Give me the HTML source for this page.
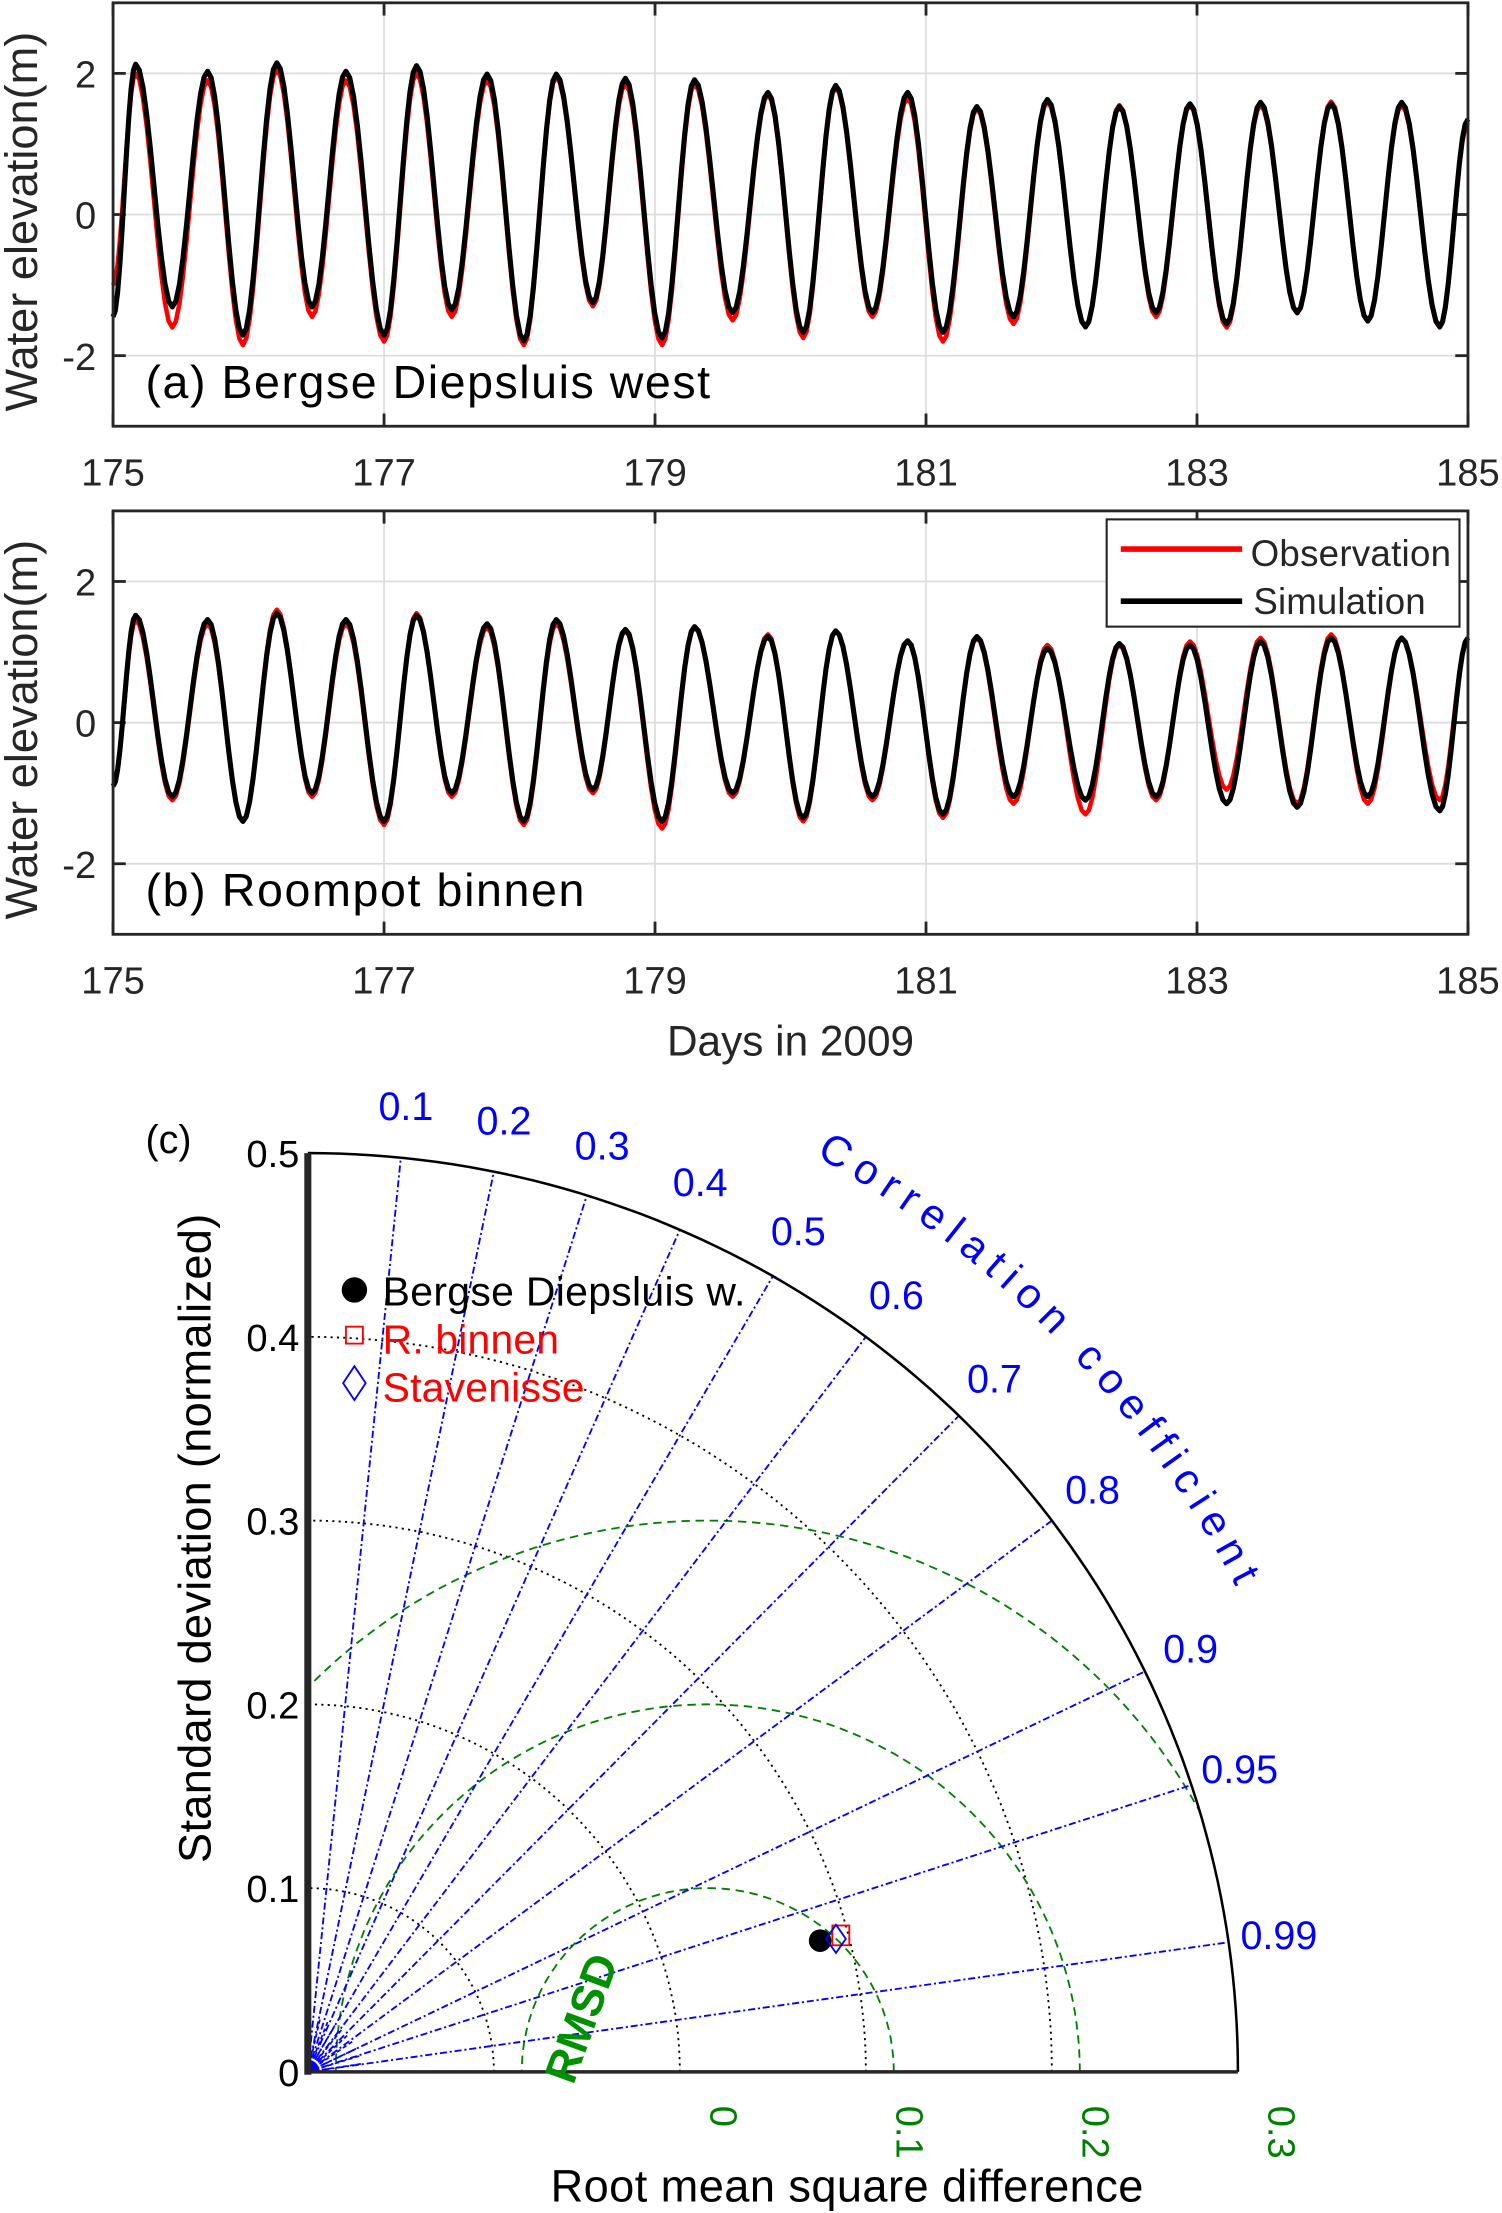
<!DOCTYPE html>
<html><head><meta charset="utf-8"><style>
html,body{margin:0;padding:0;background:#fff}
svg{display:block;font-family:"Liberation Sans",Arial,sans-serif}
</style></head><body>
<svg id="fig" width="1502" height="2213" viewBox="0 0 1064 1568" xmlns="http://www.w3.org/2000/svg">
<g id="panelA"></g>
<g id="panelB"></g>
<g id="panelC"></g>
</svg>
<script>
// ---- time-series data (extrema: start, then peak/low alternating, end) ----
const extremaDays=[175.0,175.167,175.438,175.698,175.958,176.208,176.469,176.719,177.0,177.24,177.5,177.76,178.031,178.271,178.542,178.781,179.052,179.292,179.573,179.833,180.094,180.333,180.604,180.865,181.125,181.375,181.646,181.896,182.177,182.427,182.698,182.948,183.219,183.469,183.74,183.99,184.26,184.51,184.792,185.0];
const simAStart=-1.45, simAEnd=1.35;
const simAPeaks=[2.13,2.03,2.15,2.03,2.11,1.99,1.99,1.93,1.91,1.73,1.83,1.73,1.53,1.63,1.53,1.57,1.59,1.57,1.59];
const simALows=[-1.31,-1.71,-1.31,-1.71,-1.35,-1.79,-1.25,-1.75,-1.39,-1.67,-1.39,-1.67,-1.45,-1.59,-1.39,-1.55,-1.39,-1.51,-1.59];
const obsAStart=-1.0, obsAEnd=1.3;
const obsAPeaks=[2.0,1.9,2.05,1.9,2.0,1.9,1.95,1.85,1.85,1.7,1.8,1.65,1.5,1.6,1.55,1.55,1.55,1.6,1.55];
const obsALows=[-1.6,-1.85,-1.45,-1.8,-1.45,-1.85,-1.3,-1.85,-1.5,-1.75,-1.45,-1.8,-1.55,-1.6,-1.45,-1.6,-1.4,-1.5,-1.6];
const simBStart=-0.9, simBEnd=1.2;
const simBPeaks=[1.52,1.46,1.55,1.46,1.52,1.40,1.46,1.32,1.36,1.22,1.30,1.16,1.22,1.05,1.12,1.10,1.15,1.2,1.2];
const simBLows=[-1.05,-1.4,-1.0,-1.4,-1.0,-1.4,-0.95,-1.4,-1.0,-1.35,-1.05,-1.3,-1.05,-1.1,-1.05,-1.15,-1.2,-1.05,-1.25];
const obsBStart=-0.9, obsBEnd=1.2;
const obsBPeaks=[1.45,1.4,1.6,1.4,1.55,1.35,1.4,1.3,1.35,1.25,1.3,1.15,1.2,1.1,1.1,1.15,1.2,1.25,1.2];
const obsBLows=[-1.1,-1.4,-1.05,-1.45,-1.05,-1.45,-1.0,-1.5,-1.05,-1.4,-1.1,-1.35,-1.15,-1.3,-1.1,-0.95,-1.15,-1.15,-1.1];
const xTicks=[175,177,179,181,183,185];
const yTicks=[-2,0,2];
// ---- Taylor diagram data ----
const corrTicks=[0.1,0.2,0.3,0.4,0.5,0.6,0.7,0.8,0.9,0.95,0.99];
const stdTicks=[0,0.1,0.2,0.3,0.4,0.5];
const rmsdTicks=[0.1,0.2,0.3];
const rmsdLabels=["0","0.1","0.2","0.3"];
const refStd=0.215;
const stationNames=["Bergse Diepsluis w.","R. binnen","Stavenisse"];
const stationStd=[0.2845,0.296,0.293];
const stationCorr=[0.968,0.968,0.969];

const NS="http://www.w3.org/2000/svg";
function mk(tag,attrs,parent,text){const e=document.createElementNS(NS,tag);for(const k in attrs)e.setAttribute(k,attrs[k]);if(text!==undefined)e.textContent=text;parent.appendChild(e);return e;}
function series(start,peaks,lows,end){const v=[start];for(let i=0;i<peaks.length;i++){v.push(peaks[i]);v.push(lows[i]);}v.push(end);return v;}

function panel(g,top,label,obs,sim,legend){
  const L=80,R=1040,T=top,B=top+300;
  const xs=d=>L+(d-175)/10*(R-L);
  const ys=v=>B-(v+3)/6*(B-T);
  for(const t of xTicks){const x=xs(t);
    const gl=mk('line',{x1:x,x2:x,y1:T,y2:B,stroke:'#dcdcdc','stroke-width':1.2},g);
    
    const tl=mk('text',{x:x,y:B+42,'font-size':27,'text-anchor':'middle',fill:'#262626'},g,String(t));
    
    mk('line',{x1:x,x2:x,y1:B,y2:B-9,stroke:'#262626','stroke-width':2},g);
    mk('line',{x1:x,x2:x,y1:T,y2:T+9,stroke:'#262626','stroke-width':2},g);}
  for(const t of yTicks){const y=ys(t);
    const gl=mk('line',{x1:L,x2:R,y1:y,y2:y,stroke:'#dcdcdc','stroke-width':1.2},g);
    
    const tl=mk('text',{x:68,y:y+10,'font-size':27,'text-anchor':'end',fill:'#262626'},g,String(t));
    
    mk('line',{x1:L,x2:L+9,y1:y,y2:y,stroke:'#262626','stroke-width':2},g);
    mk('line',{x1:R,x2:R-9,y1:y,y2:y,stroke:'#262626','stroke-width':2},g);}
  function path(vals){let d='';for(let i=0;i<extremaDays.length;i++){
      if(i===0){d+='M'+xs(extremaDays[0]).toFixed(1)+' '+ys(vals[0]).toFixed(1);continue;}
      const t0=extremaDays[i-1],t1=extremaDays[i],v0=vals[i-1],v1=vals[i];
      for(let k=1;k<=10;k++){const f=k/10;const w=(1-Math.cos(Math.PI*f))/2;
        d+=' L'+xs(t0+(t1-t0)*f).toFixed(1)+' '+ys(v0+(v1-v0)*w).toFixed(1);}}
    return d;}
  const po=mk('path',{d:path(obs),fill:'none',stroke:'#ff0000','stroke-width':3.2,'stroke-linejoin':'round'},g);
  
  const ps=mk('path',{d:path(sim),fill:'none',stroke:'#000','stroke-width':3.6,'stroke-linejoin':'round'},g);
  
  const bx=mk('rect',{x:L,y:T,width:R-L,height:B-T,fill:'none',stroke:'#262626','stroke-width':2},g);
  
  const lb=mk('text',{x:103,y:B-20,'font-size':33,'textLength':400,fill:'#000'},g,label);
  if(label.indexOf('Roompot')>=0)lb.setAttribute('textLength',311);
  
  const yt=mk('text',{x:0,y:0,'font-size':32,'text-anchor':'middle',fill:'#262626',transform:'translate(26,'+(T+155)+') rotate(-90)'},g,'Water elevation(m)');
  
  if(legend){
    const lg=mk('g',{},g);
    mk('rect',{x:784,y:T+6,width:250,height:76,fill:'#fff',stroke:'#262626','stroke-width':1.5},lg);
    mk('line',{x1:794,x2:880,y1:T+27,y2:T+27,stroke:'#ff0000','stroke-width':4},lg);
    mk('line',{x1:794,x2:880,y1:T+64,y2:T+64,stroke:'#000','stroke-width':4},lg);
    const e1=mk('text',{x:886,y:T+39,'font-size':26,'textLength':142,fill:'#262626'},lg,'Observation');
    
    const e2=mk('text',{x:888,y:T+73,'font-size':26,'textLength':122,fill:'#262626'},lg,'Simulation');
    }
}
panel(document.getElementById('panelA'),2,'(a) Bergse Diepsluis west',series(obsAStart,obsAPeaks,obsALows,obsAEnd),series(simAStart,simAPeaks,simALows,simAEnd),false);
panel(document.getElementById('panelB'),362,'(b) Roompot binnen',series(obsBStart,obsBPeaks,obsBLows,obsBEnd),series(simBStart,simBPeaks,simBLows,simBEnd),true);
{const svg=document.getElementById('panelB');
 const t=mk('text',{x:560,y:748,'font-size':30,'text-anchor':'middle',fill:'#262626'},svg,'Days in 2009');
 }

// ---- Taylor diagram ----
(function(){
  const g=document.getElementById('panelC');
  const OX=218,OY=1468,SX=1318,SY=1302;
  const P=(r,th)=>[OX+SX*r*Math.cos(th),OY-SY*r*Math.sin(th)];
  const defs=mk('defs',{},g);
  const cp=mk('clipPath',{id:'quad'},defs);
  let qd='M'+OX+' '+OY;for(let i=0;i<=60;i++){const p=P(0.5,Math.PI/2*i/60);qd+=' L'+p[0]+' '+p[1];}
  mk('path',{d:qd+'Z'},cp);
  for(const s of stdTicks){if(s===0||s===0.5)continue;let d='';
    for(let i=0;i<=60;i++){const p=P(s,Math.PI/2*i/60);d+=(i?' L':'M')+p[0].toFixed(1)+' '+p[1].toFixed(1);}
    const a=mk('path',{d:d,fill:'none',stroke:'#000','stroke-width':1.3,'stroke-dasharray':'1.5,3'},g);
    }
  const rg=mk('g',{'clip-path':'url(#quad)'},g);
  for(const r of rmsdTicks){let d='';
    for(let i=0;i<=120;i++){const th=Math.PI*i/120;const x=OX+SX*(refStd+r*Math.cos(th)),y=OY-SY*r*Math.sin(th);d+=(i?' L':'M')+x.toFixed(1)+' '+y.toFixed(1);}
    const c=mk('path',{d:d,fill:'none',stroke:'#008000','stroke-width':1.3,'stroke-dasharray':'6,4'},rg);
    }
  for(const c of corrTicks){const th=Math.acos(c);const p=P(0.5,th);
    const l=mk('line',{x1:OX,y1:OY,x2:p[0],y2:p[1],stroke:'#0000ff','stroke-width':1.3,'stroke-dasharray':'5,2,1.5,2'},g);
    
    const q=[OX+695*Math.cos(th),OY-688*Math.sin(th)];
    const t=mk('text',{x:q[0],y:q[1]+10,'font-size':28,'text-anchor':'middle',fill:'#0000ff'},g,String(c));
    }
  for(let i=1;i<10;i++){const th=Math.PI/2*i/10*0.95;const p=[OX+40*Math.cos(th),OY-40*Math.sin(th)];
    mk('line',{x1:OX,y1:OY,x2:p[0],y2:p[1],stroke:'#0000ff','stroke-width':1.2,'stroke-dasharray':'3,2'},g);}
  let od='';for(let i=0;i<=90;i++){const p=P(0.5,Math.PI/2*i/90);od+=(i?' L':'M')+p[0].toFixed(1)+' '+p[1].toFixed(1);}
  const oa=mk('path',{d:od,fill:'none',stroke:'#000','stroke-width':1.8},g);
  
  const ya=mk('line',{x1:OX,y1:OY+2,x2:OX,y2:OY-SY*0.5,stroke:'#262626','stroke-width':5},g);
  
  const xa=mk('line',{x1:OX,y1:OY,x2:OX+SX*0.5,y2:OY,stroke:'#262626','stroke-width':2.5},g);
  
  for(const s of stdTicks){const t=mk('text',{x:212,y:OY-SY*s+10,'font-size':27,'text-anchor':'end',fill:'#000'},g,String(s));
    }
  for(let i=0;i<rmsdLabels.length;i++){const x=OX+SX*(refStd+0.1*i);
    const t=mk('text',{x:0,y:0,'font-size':27,fill:'#008000',transform:'translate('+(x+2)+',1492) rotate(90)'},g,rmsdLabels[i]);
    }
  const rl=mk('text',{x:0,y:0,'font-size':32,'font-weight':'bold',fill:'#009000',transform:'translate(406,1478) rotate(-70)'},g,'RMSD');
  
  mk('path',{id:'ccarc',d:(()=>{let d='';for(let i=0;i<=40;i++){const th=(61-35*i/40)*Math.PI/180;d+=(i?' L':'M')+(OX+742*Math.cos(th)).toFixed(1)+' '+(OY-742*Math.sin(th)).toFixed(1);}return d;})(),fill:'none'},defs);
  const ct=mk('text',{'font-size':30,fill:'#0000ff','letter-spacing':'6.5'},g);
  
  mk('textPath',{href:'#ccarc'},ct,'Correlation coefficient');
  const markers=['dot','square','diamond'];
  for(let i=0;i<stationNames.length;i++){const p=P(stationStd[i],Math.acos(stationCorr[i]));let m;
    if(i===0)m=mk('circle',{cx:p[0],cy:p[1],r:8,fill:'#000'},g);
    else if(i===1)m=mk('rect',{x:p[0]-6,y:p[1]-7,width:12,height:14,fill:'none',stroke:'#ff0000','stroke-width':1.3},g);
    else m=mk('path',{d:'M'+p[0]+' '+(p[1]-10)+' l7 10 l-7 10 l-7 -10z',fill:'none',stroke:'#0000ff','stroke-width':1.3},g);
    }
  const lg=mk('g',{},g);
  mk('circle',{cx:251,cy:914,r:9,fill:'#000'},lg);
  mk('rect',{x:245,y:940,width:12,height:12,fill:'none',stroke:'#ff0000','stroke-width':1.3},lg);
  mk('path',{d:'M251 968 l8 12 l-8 12 l-8 -12z',fill:'none',stroke:'#0000ff','stroke-width':1.3},lg);
  const cols=['#000','#ff0000','#ff0000'];
  const lens=[257,125,143];
  for(let i=0;i<3;i++){const t=mk('text',{x:271,y:925+i*34,'font-size':29,'textLength':lens[i],fill:cols[i]},lg,stationNames[i]);
    }
  const c=mk('text',{x:103,y:817,'font-size':28,fill:'#000'},g,'(c)');
  
  const yt=mk('text',{x:0,y:0,'font-size':32,'text-anchor':'middle',fill:'#000','textLength':460,transform:'translate(149,1090) rotate(-90)'},g,'Standard deviation (normalized)');
  
  const xt=mk('text',{x:600,y:1560,'font-size':32,'text-anchor':'middle','textLength':420,fill:'#000'},g,'Root mean square difference');
  
})();
</script>
</body></html>
